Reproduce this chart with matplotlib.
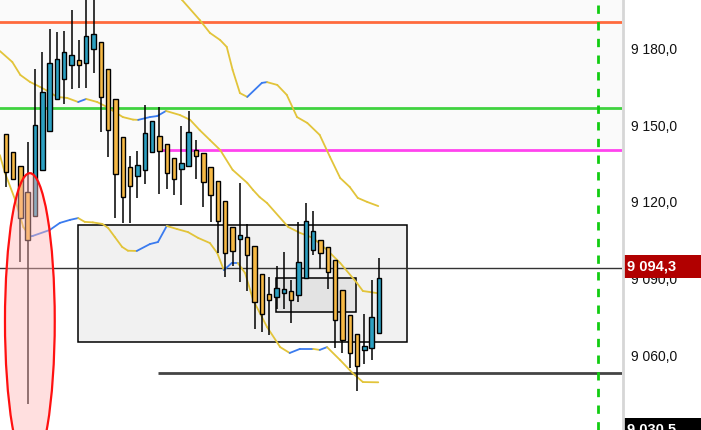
import matplotlib
matplotlib.use("Agg")
import matplotlib.pyplot as plt
from matplotlib.patches import Rectangle, Ellipse
from matplotlib.lines import Line2D

# ---------------- data ----------------
opens = [9146.7, 9139.6, 9134.1, 9123.9, 9114.5, 9132.6, 9147.8, 9160.4, 9168.2, 9173.7,
         9175.7, 9174.5, 9180.0, 9182.7, 9172.2, 9160.4, 9145.5, 9133.7, 9130.2, 9132.6,
         9139.6, 9145.9, 9142.7, 9137.3, 9132.9, 9134.1, 9140.4, 9139.2, 9133.7, 9128.2,
         9120.4, 9110.2, 9105.5, 9106.3, 9102.7, 9091.8, 9083.9, 9082.8, 9084.3, 9085.1,
         9083.5, 9090.2, 9101.2, 9105.1, 9102.3, 9097.3, 9085.5, 9075.7, 9068.2, 9061.9,
         9062.7, 9068.6]
closes = [9131.8, 9129.0, 9113.7, 9105.1, 9150.2, 9163.1, 9174.5, 9176.1, 9178.8, 9177.7,
          9173.7, 9185.1, 9185.9, 9161.2, 9148.2, 9131.0, 9121.9, 9126.3, 9134.5, 9147.1,
          9151.8, 9140.0, 9131.4, 9129.0, 9135.3, 9147.5, 9138.0, 9127.8, 9122.7, 9112.6,
          9100.0, 9100.8, 9107.1, 9099.2, 9080.8, 9076.1, 9081.6, 9086.3, 9085.9, 9081.6,
          9096.5, 9112.6, 9108.6, 9100.0, 9092.6, 9073.7, 9065.9, 9060.8, 9055.7, 9063.5,
          9074.9, 9090.2]
highs = [9146.7, 9139.6, 9134.1, 9143.5, 9172.2, 9178.8, 9187.8, 9186.7, 9187.1, 9195.3,
         9183.5, 9202.0, 9202.0, 9182.7, 9172.2, 9160.4, 9145.5, 9138.0, 9140.0, 9158.0,
         9151.8, 9157.3, 9142.7, 9137.3, 9149.8, 9155.7, 9144.3, 9139.2, 9133.7, 9128.2,
         9120.4, 9110.2, 9127.5, 9111.4, 9102.7, 9091.8, 9090.6, 9094.9, 9100.4, 9089.4,
         9112.2, 9119.6, 9116.5, 9105.1, 9102.3, 9097.3, 9085.5, 9075.7, 9068.2, 9076.1,
         9089.4, 9098.1]
lows = [9125.9, 9128.6, 9096.5, 9040.8, 9114.5, 9132.6, 9147.8, 9160.0, 9158.4, 9164.3,
        9164.7, 9164.7, 9170.6, 9147.5, 9137.7, 9113.7, 9111.8, 9111.8, 9121.6, 9127.1,
        9139.6, 9123.1, 9125.1, 9122.7, 9118.8, 9134.1, 9129.0, 9118.0, 9112.2, 9100.0,
        9090.6, 9094.9, 9088.6, 9085.1, 9070.2, 9069.0, 9067.8, 9078.0, 9078.0, 9072.6,
        9080.8, 9090.2, 9099.2, 9093.7, 9085.9, 9062.7, 9060.8, 9054.9, 9045.9, 9056.5,
        9058.0, 9068.6]

mid_x = [-0.8, 0.9, 2.0, 3.3, 4.7, 6.0, 7.0, 8.4, 9.9, 11.0, 12.5, 13.8, 14.9, 16.0, 17.4,
         18.1, 19.7, 20.7, 21.9, 23.8, 25.2, 26.5, 27.9, 29.3, 31.0, 33.0, 33.8, 34.7, 35.7,
         38.6, 40.2, 42.0, 43.9, 45.7, 48.0, 48.8, 50.7]
mid_y = [9179.2, 9174.9, 9169.8, 9167.1, 9165.1, 9163.1, 9161.2, 9160.8, 9159.2, 9160.4,
         9159.2, 9157.3, 9155.3, 9153.3, 9152.3, 9152.2, 9153.3, 9153.7, 9155.7, 9154.1,
         9152.2, 9148.2, 9144.3, 9140.4, 9132.6, 9127.5, 9124.7, 9121.9, 9119.6, 9110.2,
         9107.9, 9105.9, 9101.2, 9096.1, 9088.2, 9085.1, 9084.3]

up_x = [23.1, 24.1, 26.5, 27.9, 29.3, 30.2, 31.0, 32.0, 33.0, 35.0, 35.7, 37.1, 38.4, 39.8,
        41.2, 42.9, 44.3, 45.7, 47.0, 48.1, 49.4, 50.9]
up_y = [9206.3, 9199.2, 9191.4, 9186.3, 9183.5, 9180.8, 9171.8, 9162.7, 9161.2, 9166.7,
        9167.0, 9165.9, 9162.0, 9153.3, 9151.0, 9146.3, 9137.7, 9129.4, 9125.9, 9121.6,
        9120.0, 9118.4]

lo_x = [-0.8, -0.1, 1.3, 2.4, 3.3, 3.7, 6.0, 7.4, 8.8, 9.9, 10.8, 11.9, 13.2, 14.0, 14.9,
        15.9, 16.7, 17.9, 19.7, 20.8, 22.0, 23.4, 24.9, 26.3, 27.9, 28.9, 29.8, 30.9, 31.7,
        32.7, 33.8, 35.7, 37.5, 38.8, 40.2, 42.0, 42.9, 43.9, 45.7, 47.4, 48.8, 50.9]
lo_y = [9138.4, 9131.4, 9120.8, 9110.2, 9106.5, 9106.7, 9109.0, 9111.8, 9113.0, 9113.7,
        9112.2, 9112.0, 9111.4, 9109.8, 9106.3, 9102.4, 9100.9, 9100.8, 9103.5, 9104.3,
        9110.6, 9109.4, 9108.2, 9105.9, 9103.9, 9100.0, 9093.3, 9096.1, 9096.1, 9092.2,
        9081.6, 9071.0, 9063.1, 9060.8, 9062.4, 9062.4, 9062.0, 9063.1, 9058.0, 9052.9,
        9049.4, 9049.3]

level_orange = 9190.6
level_green = 9156.9
level_magenta = 9140.4
level_support = 9052.9
last_price = 9094.3
low_price = 9030.5
level_start = 20.8
vline_x = 80.9

box_big = (9.9, 54.8, 9065.1, 9111.0)
box_small = (36.9, 47.9, 9076.9, 9090.2)
ellipse_c = (3.3, 9073.3)
ellipse_wh = (6.8, 116.0)

yticks = [9060, 9090, 9120, 9150, 9180]

# ---------------- figure ----------------
W, H = 701, 430
fig = plt.figure(figsize=(W / 100, H / 100), dpi=100)
ax = fig.add_axes([0, 0, 622 / W, 1])
ax.set_xlim(-0.78, 84.2)
ax.set_ylim(9030.6, 9199.2)
for s in ax.spines.values():
    s.set_visible(False)
ax.set_xticks([])

# faint upper band
ax.axhspan(level_magenta, 9300, color='#fafafa', zorder=0, lw=0)

# boxes
for (x0, x1, y0, y1) in (box_big, box_small):
    ax.add_patch(Rectangle((x0, y0), x1 - x0, y1 - y0, facecolor=(0, 0, 0, 0.055),
                           edgecolor='black', lw=1.1, zorder=1))

# horizontal levels
ax.axhline(level_orange, color='#ff6a3d', lw=2, zorder=2)
ax.axhline(level_green, color='#3fd23f', lw=2, zorder=2)
ax.hlines(level_magenta, level_start, 84.2, color='#ff44ee', lw=2, zorder=2)
ax.hlines(level_support, level_start, 84.2, color='#444444', lw=2, zorder=2)
ax.axhline(last_price, color='#333333', lw=1, zorder=2)
ax.axvline(vline_x, color='#11cc11', lw=2, ls=(0, (3, 3)), zorder=2)

# moving lines: blue when rising, yellow when falling
def draw_line(xs, ys):
    for i in range(len(xs) - 1):
        c = '#3a7bef' if ys[i + 1] >= ys[i] else '#e2c43a'
        ax.plot(xs[i:i + 2], ys[i:i + 2], color=c, lw=1.3, zorder=3,
                solid_capstyle='round')

draw_line(mid_x, mid_y)
draw_line(up_x, up_y)
draw_line(lo_x, lo_y)

# candles
bw = 0.6
for i, (o, h, l, c) in enumerate(zip(opens, highs, lows, closes)):
    col = '#2ca0c2' if c > o else '#f6b945'
    ax.vlines(i, l, h, color='black', lw=1.1, zorder=4)
    lo_b, hi_b = min(o, c), max(o, c)
    ax.add_patch(Rectangle((i - bw / 2, lo_b), bw, max(hi_b - lo_b, 0.4),
                           facecolor=col, edgecolor='black', lw=1.0, zorder=5))

# ellipse highlight
ax.add_patch(Ellipse(ellipse_c, ellipse_wh[0], ellipse_wh[1],
                     facecolor=(1, 0.72, 0.72, 0.45), edgecolor='#ff1010', lw=1.6, zorder=6))

# right axis
ax.yaxis.tick_right()
ax.set_yticks(yticks)
ax.set_yticklabels(['{:,.1f}'.format(v).replace(',', ' ').replace('.', ',') for v in yticks],
                   fontfamily='Liberation Sans', fontsize=10, color='#111111')
ax.tick_params(axis='y', length=0, pad=6.5)

# axis border
fig.add_artist(Line2D([622.5 / W, 622.5 / W], [0, 1], color='#d6d6d6', lw=2))

# price labels
def price_label(price, color, y_top_px, y_bot_px):
    fig.add_artist(Rectangle((623 / W, 1 - y_bot_px / H), 80 / W, (y_bot_px - y_top_px) / H,
                             facecolor=color, edgecolor='none', transform=fig.transFigure))
    fig.text(627 / W, 1 - (y_top_px + y_bot_px) / 2 / H,
             '{:,.1f}'.format(price).replace(',', ' ').replace('.', ','),
             color='white', fontweight='bold', fontfamily='Liberation Sans', fontsize=10.5,
             ha='left', va='center')

price_label(last_price, '#b10000', 255, 278)
price_label(low_price, '#000000', 418, 441)

fig.savefig('out.png', dpi=100)
